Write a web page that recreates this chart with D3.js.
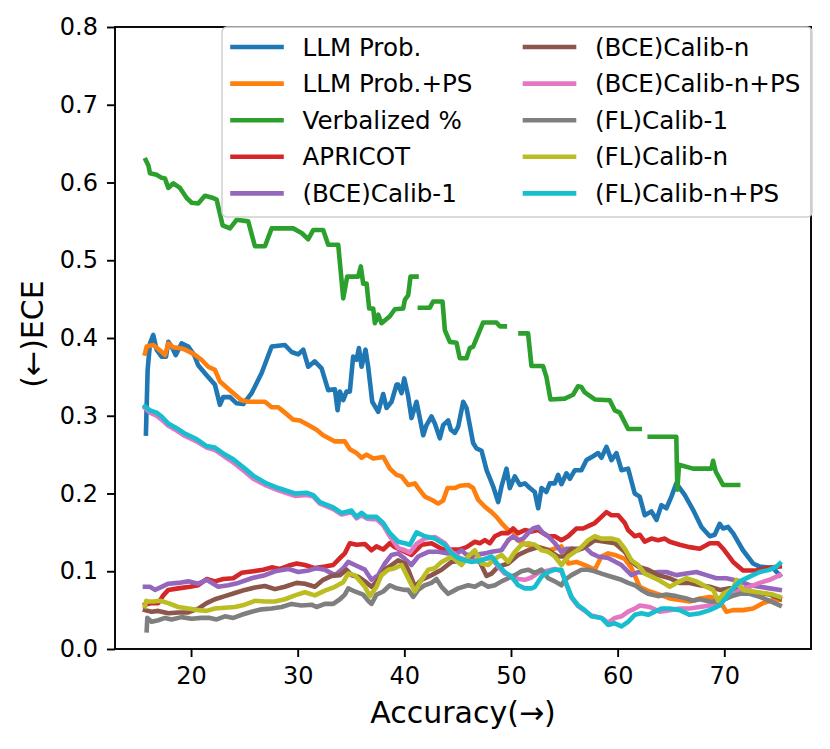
<!DOCTYPE html>
<html>
<head>
<meta charset="utf-8">
<script src="https://cdn.jsdelivr.net/npm/d3@7"></script>
<style>
  body { margin: 0; background: #fff; }
  svg { display: block; }
  text { font-family: "DejaVu Sans", sans-serif; }
</style>
</head>
<body>
<svg id="chart" width="830" height="749"></svg>
<script>
// [accuracy, ECE] pairs
const llmProb = [[15.77,0.277],[15.93,0.359],[16.15,0.393],[16.46,0.404],[16.77,0.385],[17.24,0.376],[17.65,0.376],[17.87,0.395],[18.18,0.389],[18.56,0.378],[19.11,0.393],[19.74,0.389],[20.3,0.378],[20.67,0.365],[21.46,0.352],[22.24,0.340],[22.71,0.314],[23.02,0.324],[23.65,0.324],[24.27,0.316],[24.9,0.315],[25.68,0.329],[26.62,0.355],[27.56,0.389],[28.8,0.391],[29.43,0.382],[30.05,0.379],[30.52,0.385],[30.99,0.363],[31.6,0.370],[32.24,0.361],[32.86,0.333],[33.49,0.334],[33.74,0.307],[33.96,0.331],[34.27,0.320],[34.58,0.331],[34.89,0.331],[35.2,0.376],[35.52,0.372],[35.74,0.387],[35.99,0.363],[36.36,0.385],[36.61,0.363],[36.99,0.318],[37.55,0.305],[38.02,0.328],[38.33,0.310],[38.8,0.318],[39.27,0.340],[39.42,0.340],[39.74,0.329],[39.99,0.348],[40.36,0.325],[40.67,0.297],[41.14,0.318],[41.77,0.275],[42.08,0.288],[42.55,0.299],[42.86,0.290],[43.33,0.271],[43.64,0.288],[44.11,0.294],[44.36,0.282],[44.74,0.278],[45.05,0.286],[45.52,0.318],[45.83,0.310],[46.45,0.265],[46.77,0.258],[47.24,0.255],[47.71,0.230],[48.33,0.209],[48.8,0.189],[49.11,0.209],[49.58,0.232],[49.89,0.207],[50.36,0.222],[50.83,0.211],[51.3,0.213],[51.77,0.207],[52.23,0.202],[52.55,0.181],[52.86,0.207],[53.32,0.202],[53.64,0.213],[54.11,0.213],[54.42,0.224],[54.73,0.212],[55.2,0.226],[55.52,0.219],[55.99,0.230],[56.6,0.230],[57.08,0.243],[57.7,0.248],[58.17,0.252],[58.48,0.246],[58.95,0.260],[59.42,0.243],[59.89,0.252],[60.36,0.230],[60.98,0.232],[61.6,0.200],[62.07,0.196],[62.54,0.172],[63.17,0.177],[63.64,0.166],[64.1,0.185],[64.57,0.181],[65.04,0.196],[65.5,0.213],[66.3,0.198],[67.07,0.179],[67.86,0.157],[68.64,0.145],[69.1,0.147],[69.57,0.161],[69.88,0.155],[70.35,0.157],[70.82,0.149],[71.75,0.127],[72.69,0.110],[73.32,0.106],[74.57,0.104],[75.2,0.095]];

const llmProbPS = [[15.68,0.380],[15.84,0.389],[16.46,0.391],[17.09,0.384],[17.56,0.378],[17.87,0.393],[18.34,0.388],[18.96,0.387],[19.43,0.385],[20.2,0.380],[20.99,0.372],[21.61,0.363],[22.24,0.359],[22.71,0.344],[23.8,0.331],[24.74,0.320],[25.36,0.318],[26.93,0.318],[27.56,0.311],[28.18,0.311],[28.8,0.304],[29.58,0.295],[30.21,0.294],[30.99,0.288],[31.77,0.282],[32.39,0.275],[33.49,0.267],[34.42,0.267],[34.89,0.257],[35.52,0.252],[35.99,0.246],[36.46,0.250],[37.08,0.245],[38.02,0.247],[38.64,0.232],[39.27,0.224],[39.74,0.222],[40.36,0.211],[40.99,0.213],[41.3,0.207],[41.93,0.196],[42.55,0.192],[43.17,0.187],[43.64,0.191],[44.05,0.207],[44.74,0.207],[45.2,0.210],[45.99,0.211],[46.45,0.207],[46.92,0.192],[47.55,0.183],[48.18,0.176],[48.64,0.170],[49.11,0.162],[49.74,0.153],[50.2,0.151],[50.6,0.140],[51.45,0.134],[52.39,0.132],[53.64,0.127],[54.73,0.132],[55.36,0.110],[56.14,0.112],[56.92,0.108],[57.86,0.102],[58.48,0.119],[59.11,0.123],[59.74,0.121],[60.67,0.116],[61.3,0.104],[62.07,0.080],[63.01,0.074],[63.95,0.070],[64.89,0.065],[65.82,0.063],[66.76,0.061],[67.7,0.065],[68.64,0.067],[69.42,0.065],[70.2,0.048],[70.83,0.050],[71.76,0.050],[72.7,0.052],[73.64,0.059],[74.57,0.063],[75.2,0.063]];

const verbalized = [[15.75,0.629],[16.0,0.622],[16.15,0.612],[16.77,0.610],[17.24,0.606],[17.56,0.605],[17.87,0.593],[18.34,0.599],[18.96,0.593],[19.59,0.580],[20.06,0.574],[20.67,0.573],[21.3,0.583],[22.08,0.580],[22.4,0.578],[22.96,0.545],[23.65,0.541],[24.27,0.552],[25.36,0.550],[25.99,0.518],[26.93,0.518],[27.56,0.541],[29.58,0.541],[30.37,0.535],[30.99,0.527],[31.46,0.539],[32.39,0.539],[32.86,0.520],[33.8,0.520],[34.27,0.451],[34.64,0.479],[35.67,0.479],[35.92,0.492],[36.14,0.470],[36.46,0.470],[36.7,0.438],[37.08,0.438],[37.24,0.419],[37.55,0.430],[37.86,0.419],[38.64,0.428],[39.11,0.437],[39.89,0.438],[40.05,0.449],[40.36,0.455],[40.58,0.479],[41.14,0.479],[41.3,null],[41.46,0.439],[42.39,0.439],[42.7,0.447],[43.58,0.447],[43.8,0.410],[44.27,0.395],[44.89,0.394],[45.2,0.374],[45.83,0.374],[46.14,0.387],[46.45,0.389],[47.39,0.420],[48.64,0.420],[48.95,0.415],[49.42,0.415],[50.1,null],[50.89,0.406],[51.6,0.406],[51.92,0.364],[53.0,0.364],[53.32,0.350],[53.7,0.321],[55.04,0.322],[55.82,0.327],[56.29,0.338],[56.6,0.337],[56.92,0.330],[57.86,0.321],[59.26,0.320],[59.73,0.307],[60.2,0.304],[60.98,0.283],[62.07,0.283],[62.5,null],[63.01,0.273],[65.5,0.273],[65.6,0.205],[65.75,0.237],[67.07,0.232],[68.79,0.232],[68.95,0.242],[69.2,0.228],[69.88,0.211],[71.3,0.211]];

const apricot = [[15.68,0.057],[16.3,0.059],[16.93,0.059],[17.4,0.069],[17.87,0.076],[18.8,0.078],[19.9,0.080],[20.67,0.082],[21.46,0.090],[22.24,0.087],[23.02,0.090],[23.96,0.091],[24.74,0.098],[25.83,0.100],[26.77,0.102],[27.56,0.105],[28.34,0.103],[29.11,0.107],[29.9,0.110],[30.68,0.108],[31.61,0.104],[32.55,0.106],[33.33,0.108],[33.96,0.117],[34.42,0.123],[34.89,0.136],[35.52,0.134],[36.3,0.135],[36.92,0.127],[37.39,0.132],[38.02,0.128],[38.64,0.136],[39.11,0.131],[39.74,0.127],[40.67,0.121],[41.61,0.134],[42.55,0.136],[43.49,0.129],[44.43,0.128],[45.2,0.128],[45.83,0.131],[46.61,0.138],[47.08,0.136],[47.55,0.140],[48.02,0.136],[48.49,0.145],[49.11,0.149],[49.74,0.149],[50.2,0.155],[50.67,0.149],[51.3,0.153],[51.92,0.151],[52.55,0.153],[53.49,0.145],[54.11,0.145],[54.73,0.140],[55.36,0.145],[56.14,0.155],[56.76,0.155],[57.39,0.159],[57.86,0.162],[58.48,0.170],[58.95,0.176],[59.42,0.172],[60.05,0.172],[60.67,0.162],[60.98,0.153],[61.61,0.145],[62.08,0.147],[62.54,0.138],[63.17,0.142],[63.8,0.140],[64.42,0.142],[64.89,0.138],[65.82,0.134],[66.76,0.131],[67.7,0.129],[68.64,0.136],[69.42,0.136],[69.89,0.129],[70.83,0.112],[71.76,0.101],[73.01,0.101],[73.95,0.104],[75.2,0.106]];

const bceCalib1 = [[15.68,0.080],[16.15,0.080],[16.62,0.076],[17.24,0.080],[17.87,0.084],[18.8,0.085],[19.74,0.087],[20.67,0.084],[21.46,0.089],[22.55,0.080],[23.49,0.082],[24.43,0.085],[25.68,0.091],[26.93,0.095],[27.87,0.100],[29.11,0.103],[30.05,0.099],[30.99,0.101],[31.77,0.104],[32.55,0.102],[33.49,0.095],[34.27,0.104],[34.74,0.112],[35.36,0.108],[36.3,0.102],[36.92,0.089],[37.55,0.095],[38.17,0.110],[38.8,0.121],[39.42,0.123],[40.05,0.116],[40.67,0.108],[41.3,0.119],[42.24,0.125],[43.17,0.125],[44.11,0.123],[44.74,0.121],[45.36,0.127],[45.83,0.121],[46.61,0.121],[47.55,0.123],[48.18,0.125],[49.11,0.127],[49.74,0.140],[50.2,0.145],[50.67,0.140],[51.14,0.142],[51.61,0.149],[52.08,0.155],[52.55,0.157],[53.01,0.149],[53.49,0.145],[54.11,0.136],[54.73,0.125],[55.2,0.129],[55.67,0.129],[56.3,0.127],[56.92,0.131],[57.55,0.123],[58.17,0.119],[59.11,0.117],[60.36,0.108],[61.3,0.095],[61.92,0.099],[62.86,0.097],[63.8,0.099],[64.57,0.099],[65.5,0.095],[66.44,0.097],[67.38,0.099],[68.32,0.095],[69.26,0.091],[70.2,0.091],[70.82,0.089],[71.45,0.087],[72.38,0.082],[73.32,0.080],[74.26,0.078],[75.2,0.076]];

const bceCalibN = [[15.68,0.050],[16.3,0.048],[16.93,0.049],[17.87,0.046],[18.8,0.047],[19.74,0.047],[20.67,0.052],[21.46,0.059],[22.24,0.064],[23.18,0.068],[24.11,0.072],[25.05,0.076],[25.99,0.079],[26.93,0.081],[27.87,0.077],[28.8,0.080],[29.9,0.085],[30.68,0.084],[31.61,0.080],[32.39,0.089],[33.18,0.094],[33.96,0.095],[34.58,0.102],[35.05,0.095],[35.67,0.093],[36.3,0.087],[36.92,0.080],[37.55,0.089],[38.17,0.102],[38.8,0.108],[39.42,0.114],[40.05,0.110],[40.36,0.102],[40.99,0.080],[41.61,0.089],[42.55,0.095],[43.49,0.102],[44.43,0.112],[45.36,0.114],[46.3,0.116],[47.08,0.112],[47.71,0.094],[48.18,0.097],[48.8,0.106],[49.74,0.110],[50.67,0.121],[51.61,0.127],[52.55,0.131],[53.49,0.127],[54.42,0.119],[55.05,0.119],[55.67,0.129],[56.61,0.129],[57.24,0.134],[57.86,0.140],[58.8,0.138],[59.74,0.136],[60.67,0.125],[61.3,0.112],[61.92,0.106],[62.86,0.102],[63.8,0.095],[64.89,0.091],[65.82,0.085],[66.76,0.085],[67.7,0.082],[68.64,0.080],[69.58,0.076],[70.51,0.078],[71.45,0.076],[72.38,0.074],[73.32,0.072],[74.26,0.070],[75.2,0.065]];

const bceCalibNPS = [[15.68,0.310],[16.15,0.304],[16.77,0.300],[17.24,0.295],[17.87,0.287],[18.65,0.281],[19.43,0.274],[20.52,0.267],[21.46,0.259],[22.24,0.256],[23.18,0.247],[23.96,0.240],[25.05,0.228],[25.83,0.219],[27.08,0.210],[28.18,0.204],[29.74,0.197],[30.83,0.198],[31.46,0.196],[32.08,0.187],[33.33,0.180],[34.11,0.173],[35.05,0.176],[35.52,0.168],[35.99,0.172],[36.46,0.168],[36.92,0.167],[37.39,0.167],[38.02,0.159],[38.64,0.145],[39.42,0.130],[40.05,0.127],[40.52,0.124],[41.14,0.135],[41.92,0.142],[42.86,0.144],[43.8,0.136],[44.43,0.125],[45.05,0.118],[45.67,0.115],[46.3,0.113],[47.24,0.115],[48.18,0.117],[48.8,0.106],[49.42,0.097],[50.05,0.094],[50.67,0.090],[51.3,0.089],[51.92,0.092],[52.55,0.098],[53.49,0.101],[54.11,0.103],[54.73,0.100],[55.05,0.088],[55.67,0.066],[56.3,0.055],[56.92,0.049],[57.55,0.043],[58.48,0.040],[59.11,0.034],[59.74,0.040],[60.36,0.042],[60.98,0.048],[61.61,0.052],[62.07,0.056],[63.01,0.054],[63.95,0.048],[64.89,0.050],[65.82,0.052],[66.76,0.052],[67.7,0.054],[68.64,0.056],[69.58,0.061],[70.51,0.067],[71.45,0.076],[72.38,0.080],[73.32,0.085],[74.26,0.089],[75.2,0.095]];

const flCalib1 = [[15.84,0.024],[15.9,0.040],[16.3,0.035],[16.93,0.037],[17.56,0.040],[18.18,0.038],[19.11,0.041],[20.05,0.039],[20.99,0.040],[21.77,0.040],[22.4,0.038],[23.18,0.042],[23.96,0.040],[24.74,0.044],[25.68,0.048],[26.62,0.051],[27.56,0.052],[28.49,0.054],[29.43,0.058],[30.36,0.056],[31.3,0.057],[31.77,0.054],[32.55,0.058],[33.33,0.058],[33.96,0.064],[34.42,0.070],[34.74,0.078],[35.36,0.074],[36.14,0.070],[36.61,0.062],[36.92,0.058],[37.39,0.070],[38.02,0.074],[38.64,0.082],[39.27,0.078],[40.05,0.076],[40.36,0.076],[40.83,0.067],[41.3,0.076],[41.92,0.082],[42.55,0.085],[43.01,0.090],[43.49,0.080],[44.11,0.071],[45.05,0.078],[45.99,0.082],[46.61,0.080],[47.24,0.085],[47.86,0.080],[48.49,0.082],[49.11,0.087],[49.74,0.091],[50.36,0.095],[50.98,0.100],[51.61,0.102],[52.24,0.098],[52.86,0.102],[53.49,0.091],[54.11,0.087],[54.73,0.082],[55.05,0.089],[55.67,0.095],[56.61,0.102],[57.24,0.102],[57.86,0.100],[58.48,0.097],[59.42,0.093],[60.36,0.089],[60.98,0.085],[61.61,0.082],[62.23,0.076],[62.86,0.071],[63.8,0.068],[64.57,0.070],[65.5,0.068],[66.44,0.065],[67.07,0.062],[67.7,0.064],[68.64,0.061],[69.58,0.061],[70.51,0.067],[71.45,0.071],[72.38,0.071],[73.32,0.067],[74.26,0.062],[75.2,0.056]];

const flCalibN = [[15.68,0.055],[15.8,0.062],[15.99,0.061],[16.46,0.061],[17.09,0.062],[17.87,0.059],[18.8,0.054],[19.74,0.052],[20.67,0.050],[21.46,0.049],[22.24,0.052],[23.18,0.053],[24.11,0.054],[25.05,0.057],[25.99,0.062],[26.93,0.061],[27.87,0.061],[28.8,0.064],[29.74,0.069],[30.68,0.073],[31.61,0.069],[32.55,0.075],[33.49,0.080],[34.27,0.086],[34.74,0.097],[35.36,0.095],[36.3,0.080],[36.77,0.068],[37.39,0.080],[37.86,0.095],[38.49,0.102],[39.11,0.104],[39.74,0.108],[40.36,0.091],[40.99,0.074],[41.61,0.089],[42.24,0.102],[42.86,0.104],[43.49,0.112],[44.43,0.119],[45.36,0.108],[45.99,0.119],[46.61,0.127],[47.24,0.110],[47.86,0.108],[48.49,0.116],[49.11,0.121],[49.74,0.112],[50.36,0.125],[50.98,0.134],[51.61,0.136],[52.24,0.134],[52.86,0.127],[53.49,0.125],[54.11,0.119],[54.73,0.108],[55.36,0.119],[55.99,0.125],[56.61,0.131],[57.24,0.140],[57.86,0.145],[58.48,0.142],[59.42,0.142],[60.05,0.140],[60.67,0.129],[61.3,0.114],[61.92,0.108],[62.54,0.097],[63.17,0.093],[63.8,0.089],[64.89,0.080],[65.82,0.087],[66.44,0.091],[67.38,0.087],[68.32,0.080],[68.95,0.076],[69.42,0.062],[69.89,0.071],[70.83,0.078],[71.14,0.089],[71.76,0.076],[72.7,0.074],[73.64,0.072],[74.57,0.070],[75.2,0.067]];

const flCalibNPS = [[15.68,0.312],[16.15,0.307],[16.77,0.304],[17.24,0.299],[17.87,0.290],[18.65,0.284],[19.43,0.277],[20.52,0.270],[21.46,0.261],[22.24,0.259],[23.18,0.250],[23.96,0.244],[25.05,0.232],[25.83,0.223],[27.08,0.213],[28.18,0.207],[29.74,0.200],[30.83,0.201],[31.46,0.198],[32.08,0.189],[33.33,0.182],[34.11,0.175],[35.05,0.178],[35.52,0.170],[35.99,0.175],[36.46,0.170],[36.92,0.170],[37.39,0.170],[38.02,0.162],[38.64,0.149],[39.42,0.138],[40.05,0.136],[40.52,0.134],[41.14,0.150],[41.92,0.145],[42.86,0.142],[43.8,0.134],[44.43,0.123],[45.05,0.117],[45.67,0.114],[46.3,0.112],[47.24,0.114],[48.18,0.119],[48.8,0.108],[49.42,0.099],[50.05,0.093],[50.67,0.082],[51.3,0.078],[51.92,0.078],[52.24,0.080],[52.86,0.093],[53.49,0.099],[54.11,0.102],[54.73,0.102],[55.05,0.089],[55.67,0.067],[56.3,0.056],[56.92,0.050],[57.55,0.042],[58.48,0.040],[59.11,0.031],[59.74,0.033],[60.36,0.029],[60.98,0.035],[61.61,0.044],[62.23,0.046],[62.86,0.044],[63.49,0.048],[64.11,0.052],[64.89,0.052],[65.82,0.050],[66.76,0.044],[67.7,0.046],[68.64,0.050],[69.58,0.056],[70.2,0.067],[70.83,0.078],[71.45,0.087],[72.38,0.093],[73.32,0.099],[74.26,0.102],[74.89,0.106],[75.2,0.110]];

const seriesNames = ["LLM Prob.","LLM Prob.+PS","Verbalized %","APRICOT","(BCE)Calib-1","(BCE)Calib-n","(BCE)Calib-n+PS","(FL)Calib-1","(FL)Calib-n","(FL)Calib-n+PS"];
const seriesData = [llmProb, llmProbPS, verbalized, apricot, bceCalib1, bceCalibN, bceCalibNPS, flCalib1, flCalibN, flCalibNPS];
const colors = ["#1f77b4","#ff7f0e","#2ca02c","#d62728","#9467bd","#8c564b","#e377c2","#7f7f7f","#bcbd22","#17becf"];
const xTicks = [20,30,40,50,60,70];
const yTicks = [0,0.1,0.2,0.3,0.4,0.5,0.6,0.7,0.8];

const W = 830, H = 749;
const margin = {top: 27, right: 19, bottom: 100, left: 115};
const iw = W - margin.left - margin.right;
const ih = H - margin.top - margin.bottom;

const svg = d3.select("#chart");
const g = svg.append("g").attr("transform", `translate(${margin.left},${margin.top})`);

const x = d3.scaleLinear().domain([12.87, 78.13]).range([0, iw]);
const y = d3.scaleLinear().domain([0, 0.8]).range([ih, 0]);

g.append("clipPath").attr("id","clip")
  .append("rect").attr("width", iw).attr("height", ih);

const line = d3.line()
  .defined(d => d[1] !== null)
  .x(d => x(d[0]))
  .y(d => y(d[1]));

g.append("g").attr("clip-path","url(#clip)")
  .selectAll("path")
  .data(seriesData)
  .join("path")
  .attr("d", line)
  .attr("fill", "none")
  .attr("stroke", (d,i) => colors[i])
  .attr("stroke-width", 4.6)
  .attr("stroke-linejoin", "round")
  .attr("stroke-linecap", "square");

// axes
const xAxis = g.append("g")
  .attr("transform", `translate(0,${ih})`)
  .call(d3.axisBottom(x).tickValues(xTicks).tickFormat(d3.format("d")).tickSize(8).tickSizeOuter(0).tickPadding(10));
const yAxis = g.append("g")
  .call(d3.axisLeft(y).tickValues(yTicks).tickFormat(d3.format(".1f")).tickSize(8).tickSizeOuter(0).tickPadding(9));

[xAxis, yAxis].forEach(a => {
  a.selectAll(".domain").remove();
  a.selectAll(".tick line").attr("stroke", "#000").attr("stroke-width", 1.9);
  a.selectAll(".tick text").attr("fill", "#000").style("font-size", "24px");
});

g.append("rect")
  .attr("width", iw).attr("height", ih)
  .attr("fill", "none").attr("stroke", "#000").attr("stroke-width", 1.9);

// axis labels
svg.append("text")
  .attr("x", margin.left + iw / 2).attr("y", 723)
  .attr("text-anchor", "middle")
  .style("font-size", "30px")
  .text("Accuracy(\u2192)");

svg.append("text")
  .attr("transform", `translate(43,${margin.top + ih / 2 - 4}) rotate(-90)`)
  .attr("text-anchor", "middle")
  .style("font-size", "30px")
  .text("(\u2190)ECE");

// legend
const leg = svg.append("g").attr("transform", "translate(222,27)");
leg.append("rect")
  .attr("width", 590).attr("height", 190)
  .attr("rx", 5)
  .attr("fill", "#fff").attr("fill-opacity", 0.8)
  .attr("stroke", "#d0d0d0").attr("stroke-width", 1.5);

const rowH = 36.6;
const items = leg.selectAll("g.item")
  .data(seriesNames)
  .join("g")
  .attr("class", "item")
  .attr("transform", (d,i) => `translate(${i < 5 ? 0 : 292.5},${20 + (i % 5) * rowH})`);

items.append("line")
  .attr("x1", 10.5).attr("x2", 59.5)
  .attr("stroke", (d,i) => colors[i])
  .attr("stroke-width", 4.6)
  .attr("stroke-linecap", "square");

items.append("text")
  .attr("x", 80.5).attr("y", 0)
  .attr("dy", "0.35em")
  .style("font-size", "24.6px")
  .text(d => d);
</script>
</body>
</html>
